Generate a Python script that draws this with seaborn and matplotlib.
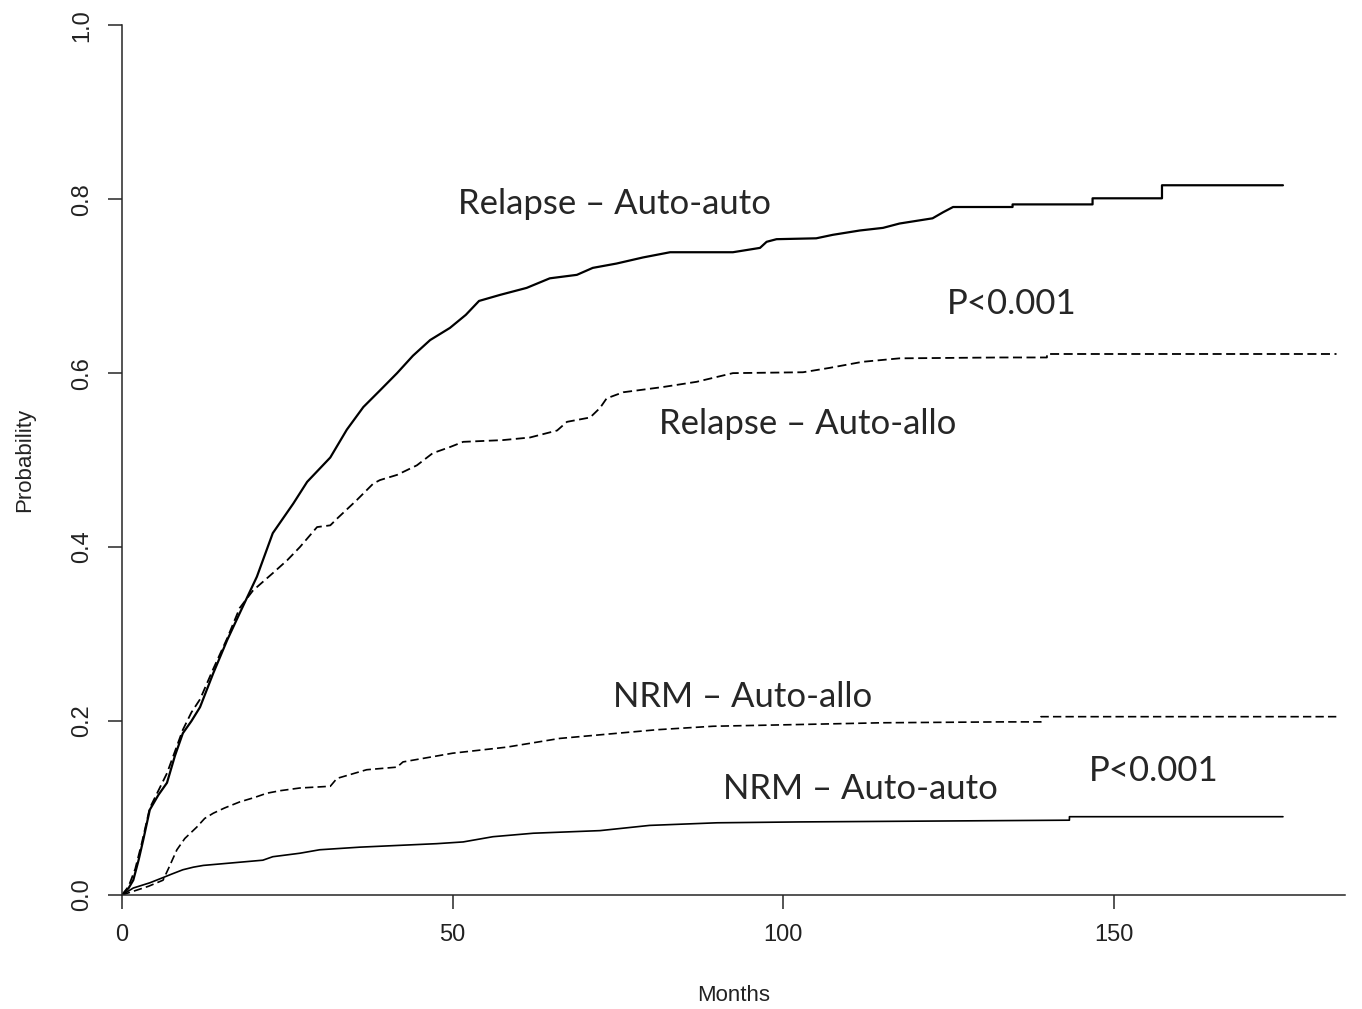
import pandas as pd
import matplotlib
matplotlib.use("Agg")
import matplotlib.pyplot as plt
import seaborn as sns

# cumulative incidence curves (months, probability)
relapse_auto_t = [0, 1, 1.7, 2.5, 3.2, 4.2, 5.5, 6.8, 8, 9.2, 10.5, 11.8, 13.8, 15.9, 17.8, 20.4,
                  22.8, 25.9, 28, 31.5, 34, 36.5, 39, 41.6, 44, 46.6, 49.6, 52, 54, 57.2, 61.2,
                  64.7, 68.8, 71.2, 74.8, 78.8, 82.9, 92.4, 96.5, 97.5, 99, 105, 107.5, 111.6,
                  115.1, 117.6, 122.6, 124.2, 125.7, 134.7, 134.7, 146.8, 146.8, 157.3, 157.3, 175.6]
relapse_auto_p = [0, 0.008, 0.017, 0.04, 0.063, 0.098, 0.115, 0.129, 0.16, 0.186, 0.2, 0.216,
                  0.255, 0.293, 0.324, 0.366, 0.416, 0.45, 0.475, 0.503, 0.535, 0.561, 0.58, 0.600,
                  0.62, 0.638, 0.652, 0.667, 0.683, 0.690, 0.698, 0.709, 0.713, 0.721, 0.726,
                  0.733, 0.739, 0.739, 0.744, 0.751, 0.754, 0.755, 0.759, 0.764, 0.767, 0.772,
                  0.778, 0.785, 0.791, 0.791, 0.794, 0.794, 0.801, 0.801, 0.816, 0.816]

relapse_allo_t = [0, 1, 2, 3, 4.2, 5.5, 6.8, 8, 9.2, 10.5, 11.8, 13.8, 15.9, 17.8, 19.8, 22.8, 25,
                  26.9, 29.5, 31.5, 32.7, 35.5, 38, 39, 41.6, 44.6, 47, 49.6, 51.6, 57.6, 61.7,
                  65.8, 67.3, 70.8, 72.3, 73.3, 75.8, 81.8, 86.9, 92.4, 103, 107, 112, 117.6,
                  132.8, 139.9, 139.9, 183.7]
relapse_allo_p = [0, 0.01, 0.03, 0.06, 0.1, 0.12, 0.14, 0.165, 0.19, 0.21, 0.225, 0.26, 0.295,
                  0.33, 0.35, 0.37, 0.385, 0.40, 0.423, 0.425, 0.434, 0.454, 0.473, 0.477, 0.483,
                  0.494, 0.508, 0.515, 0.521, 0.523, 0.526, 0.534, 0.544, 0.549, 0.560, 0.571,
                  0.578, 0.584, 0.590, 0.600, 0.601, 0.606, 0.613, 0.617, 0.618, 0.618, 0.622, 0.622]

nrm_allo_t = [0, 2, 4, 6.2, 7, 8.3, 9.5, 11.3, 12.5, 13.8, 15.5, 17.8, 20, 21.9, 24, 26.9, 31.5,
              32.5, 37, 41.6, 42.5, 50, 58.2, 66.2, 80.9, 89.4, 102.5, 115, 132.8, 139, 139, 183.7]
nrm_allo_p = [0, 0.005, 0.01, 0.017, 0.03, 0.052, 0.065, 0.078, 0.088, 0.094, 0.1, 0.107, 0.112,
              0.117, 0.12, 0.123, 0.125, 0.134, 0.144, 0.147, 0.153, 0.163, 0.170, 0.180, 0.190,
              0.194, 0.196, 0.198, 0.199, 0.199, 0.205, 0.205]

nrm_auto_t = [0, 1.7, 4.2, 6.2, 7.5, 9.2, 10.8, 12.3, 16.8, 21.3, 22.8, 26.9, 29.9, 36, 47.6,
              51.6, 56.1, 62.2, 72.3, 79.8, 90, 102.5, 143.3, 143.3, 175.6]
nrm_auto_p = [0, 0.008, 0.014, 0.02, 0.024, 0.029, 0.032, 0.034, 0.037, 0.04, 0.044, 0.048,
              0.052, 0.055, 0.059, 0.061, 0.067, 0.071, 0.074, 0.080, 0.083, 0.084, 0.086, 0.090,
              0.090]

x_ticks = [0, 50, 100, 150]
y_ticks = [0.0, 0.2, 0.4, 0.6, 0.8, 1.0]

sns.set_style("ticks")
plt.rcParams["font.family"] = ["Liberation Sans", "DejaVu Sans"]

fig = plt.figure(figsize=(13.62, 10.09), dpi=100)
ax = fig.add_axes([0.0896, 0.113, 0.898, 0.862])

dash = (0, (5, 2.5))
curves = [
    (relapse_auto_t, relapse_auto_p, "-", 1.6),
    (relapse_allo_t, relapse_allo_p, dash, 1.3),
    (nrm_allo_t, nrm_allo_p, dash, 1.2),
    (nrm_auto_t, nrm_auto_p, "-", 1.2),
]
for t, p, ls, lw in curves:
    df = pd.DataFrame({"Months": t, "Probability": p})
    sns.lineplot(data=df, x="Months", y="Probability", ax=ax, estimator=None, sort=False,
                 color="black", linestyle=ls, linewidth=lw)

ax.set_xlim(0, 185)
ax.set_ylim(0, 1)
ax.set_xticks(x_ticks)
ax.set_xticklabels([str(v) for v in x_ticks])
ax.set_yticks(y_ticks)
ax.set_yticklabels([f"{v:.1f}" for v in y_ticks], rotation=90, va="center")
ax.tick_params(direction="out", length=10, width=1.1, labelsize=17, labelcolor="#222222", pad=11)
for s in ["top", "right"]:
    ax.spines[s].set_visible(False)
for s in ["left", "bottom"]:
    ax.spines[s].set_linewidth(1.1)
ax.set_xlabel("Months", fontsize=16, labelpad=28, color="#222222")
ax.set_ylabel("Probability", fontsize=16, labelpad=26, color="#222222")

lab = dict(fontsize=25, family=["Lato", "DejaVu Sans"], ha="center", va="center")
ax.text(74.5, 0.794, "Relapse – Auto-auto", **lab)
ax.text(134.6, 0.680, "P<0.001", **lab)
ax.text(103.7, 0.541, "Relapse – Auto-allo", **lab)
ax.text(93.8, 0.228, "NRM – Auto-allo", **lab)
ax.text(111.7, 0.122, "NRM – Auto-auto", **lab)
ax.text(156.0, 0.1425, "P<0.001", **lab)

fig.savefig("out.png", dpi=100)
